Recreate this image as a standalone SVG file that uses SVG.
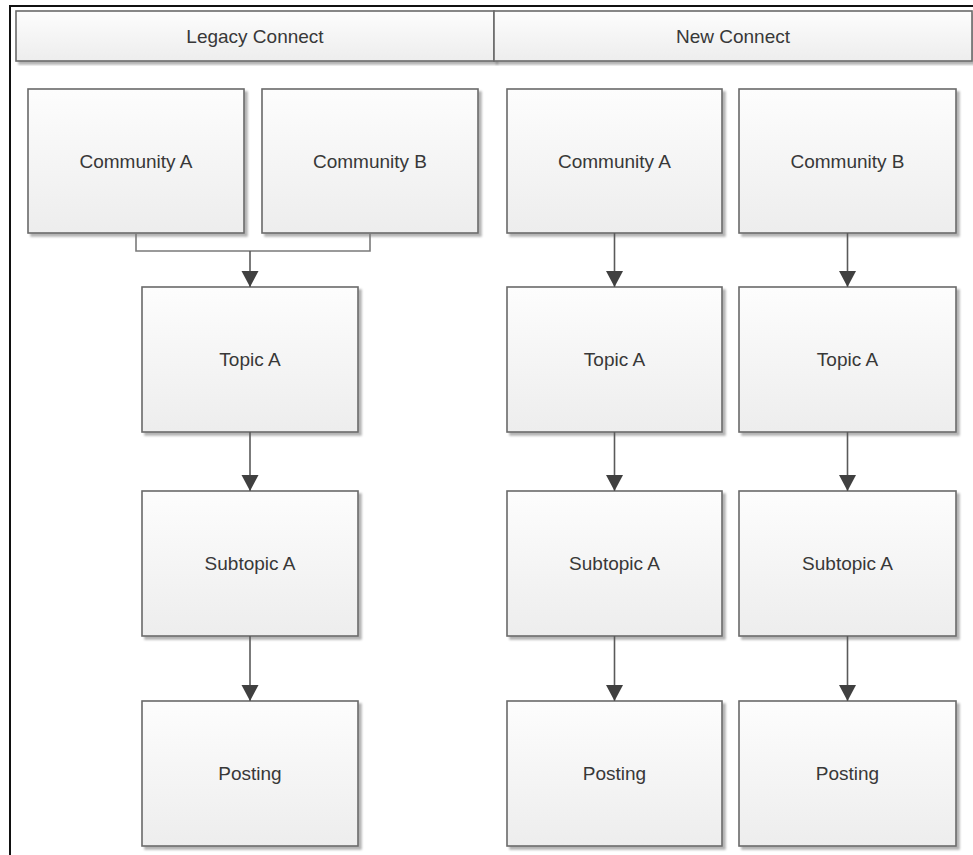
<svg xmlns="http://www.w3.org/2000/svg" width="973" height="855" viewBox="0 0 973 855">
  <style>
    .box { fill: url(#boxFill); stroke: #6a6a6a; stroke-width: 1.6; filter: url(#shadow); }
    .label { font-family: "Liberation Sans", Arial, sans-serif; font-size: 19px; fill: #383838; text-anchor: middle; dominant-baseline: central; }
    .flow { fill: none; stroke: #5a5a5a; stroke-width: 1.6; }
    .join { fill: none; stroke: #7a7a7a; stroke-width: 1.6; }
  </style>
  <defs>
    <linearGradient id="boxFill" x1="0" y1="0" x2="0" y2="1">
      <stop offset="0" stop-color="#fdfdfd"/>
      <stop offset="1" stop-color="#ededed"/>
    </linearGradient>
    <filter id="shadow" x="-5%" y="-5%" width="115%" height="115%">
      <feOffset in="SourceAlpha" dx="2.5" dy="2.5" result="off"/>
      <feGaussianBlur in="off" stdDeviation="1.2" result="blur"/>
      <feComponentTransfer in="blur" result="soft">
        <feFuncA type="linear" slope="0.3"/>
      </feComponentTransfer>
      <feMerge>
        <feMergeNode in="soft"/>
        <feMergeNode in="SourceGraphic"/>
      </feMerge>
    </filter>
    <marker id="arrow" markerUnits="userSpaceOnUse" markerWidth="18" markerHeight="18" refX="16" refY="8.5" orient="auto">
      <path d="M0,0 L16,8.5 L0,17 z" fill="#404040"/>
    </marker>
  </defs>

  <rect width="973" height="855" fill="#ffffff"/>

  <!-- frame -->
  <path d="M10,855 L10,6 L973,6" fill="none" stroke="#111" stroke-width="2"/>

  <!-- column headers -->
  <g id="header-legacy">
    <rect class="box" x="16" y="11" width="478" height="50"/>
    <text class="label" x="255" y="36">Legacy Connect</text>
  </g>
  <g id="header-new">
    <rect class="box" x="494" y="11" width="478" height="50"/>
    <text class="label" x="733" y="36">New Connect</text>
  </g>

  <!-- Legacy Connect nodes -->
  <g id="legacy-community-a">
    <rect class="box" x="28" y="89" width="216" height="144"/>
    <text class="label" x="136" y="161">Community A</text>
  </g>
  <g id="legacy-community-b">
    <rect class="box" x="262" y="89" width="216" height="144"/>
    <text class="label" x="370" y="161">Community B</text>
  </g>
  <g id="legacy-topic-a">
    <rect class="box" x="142" y="287" width="216" height="145"/>
    <text class="label" x="250" y="359">Topic A</text>
  </g>
  <g id="legacy-subtopic-a">
    <rect class="box" x="142" y="491" width="216" height="145"/>
    <text class="label" x="250" y="563">Subtopic A</text>
  </g>
  <g id="legacy-posting">
    <rect class="box" x="142" y="701" width="216" height="145"/>
    <text class="label" x="250" y="773">Posting</text>
  </g>

  <!-- New Connect nodes -->
  <g id="new-community-a">
    <rect class="box" x="507" y="89" width="215" height="144"/>
    <text class="label" x="614.5" y="161">Community A</text>
  </g>
  <g id="new-community-b">
    <rect class="box" x="739" y="89" width="217" height="144"/>
    <text class="label" x="847.5" y="161">Community B</text>
  </g>
  <g id="new-topic-a-1">
    <rect class="box" x="507" y="287" width="215" height="145"/>
    <text class="label" x="614.5" y="359">Topic A</text>
  </g>
  <g id="new-topic-a-2">
    <rect class="box" x="739" y="287" width="217" height="145"/>
    <text class="label" x="847.5" y="359">Topic A</text>
  </g>
  <g id="new-subtopic-a-1">
    <rect class="box" x="507" y="491" width="215" height="145"/>
    <text class="label" x="614.5" y="563">Subtopic A</text>
  </g>
  <g id="new-subtopic-a-2">
    <rect class="box" x="739" y="491" width="217" height="145"/>
    <text class="label" x="847.5" y="563">Subtopic A</text>
  </g>
  <g id="new-posting-1">
    <rect class="box" x="507" y="701" width="215" height="145"/>
    <text class="label" x="614.5" y="773">Posting</text>
  </g>
  <g id="new-posting-2">
    <rect class="box" x="739" y="701" width="217" height="145"/>
    <text class="label" x="847.5" y="773">Posting</text>
  </g>

  <!-- connectors -->
  <g id="connectors">
    <path class="join" d="M136,233 L136,251 L370,251 L370,233"/>
    <path class="flow" d="M250,251 L250,287" marker-end="url(#arrow)"/>
    <path class="flow" d="M250,432 L250,491" marker-end="url(#arrow)"/>
    <path class="flow" d="M250,636 L250,701" marker-end="url(#arrow)"/>

    <path class="flow" d="M614.5,233 L614.5,287" marker-end="url(#arrow)"/>
    <path class="flow" d="M614.5,432 L614.5,491" marker-end="url(#arrow)"/>
    <path class="flow" d="M614.5,636 L614.5,701" marker-end="url(#arrow)"/>

    <path class="flow" d="M847.5,233 L847.5,287" marker-end="url(#arrow)"/>
    <path class="flow" d="M847.5,432 L847.5,491" marker-end="url(#arrow)"/>
    <path class="flow" d="M847.5,636 L847.5,701" marker-end="url(#arrow)"/>
  </g>
</svg>
